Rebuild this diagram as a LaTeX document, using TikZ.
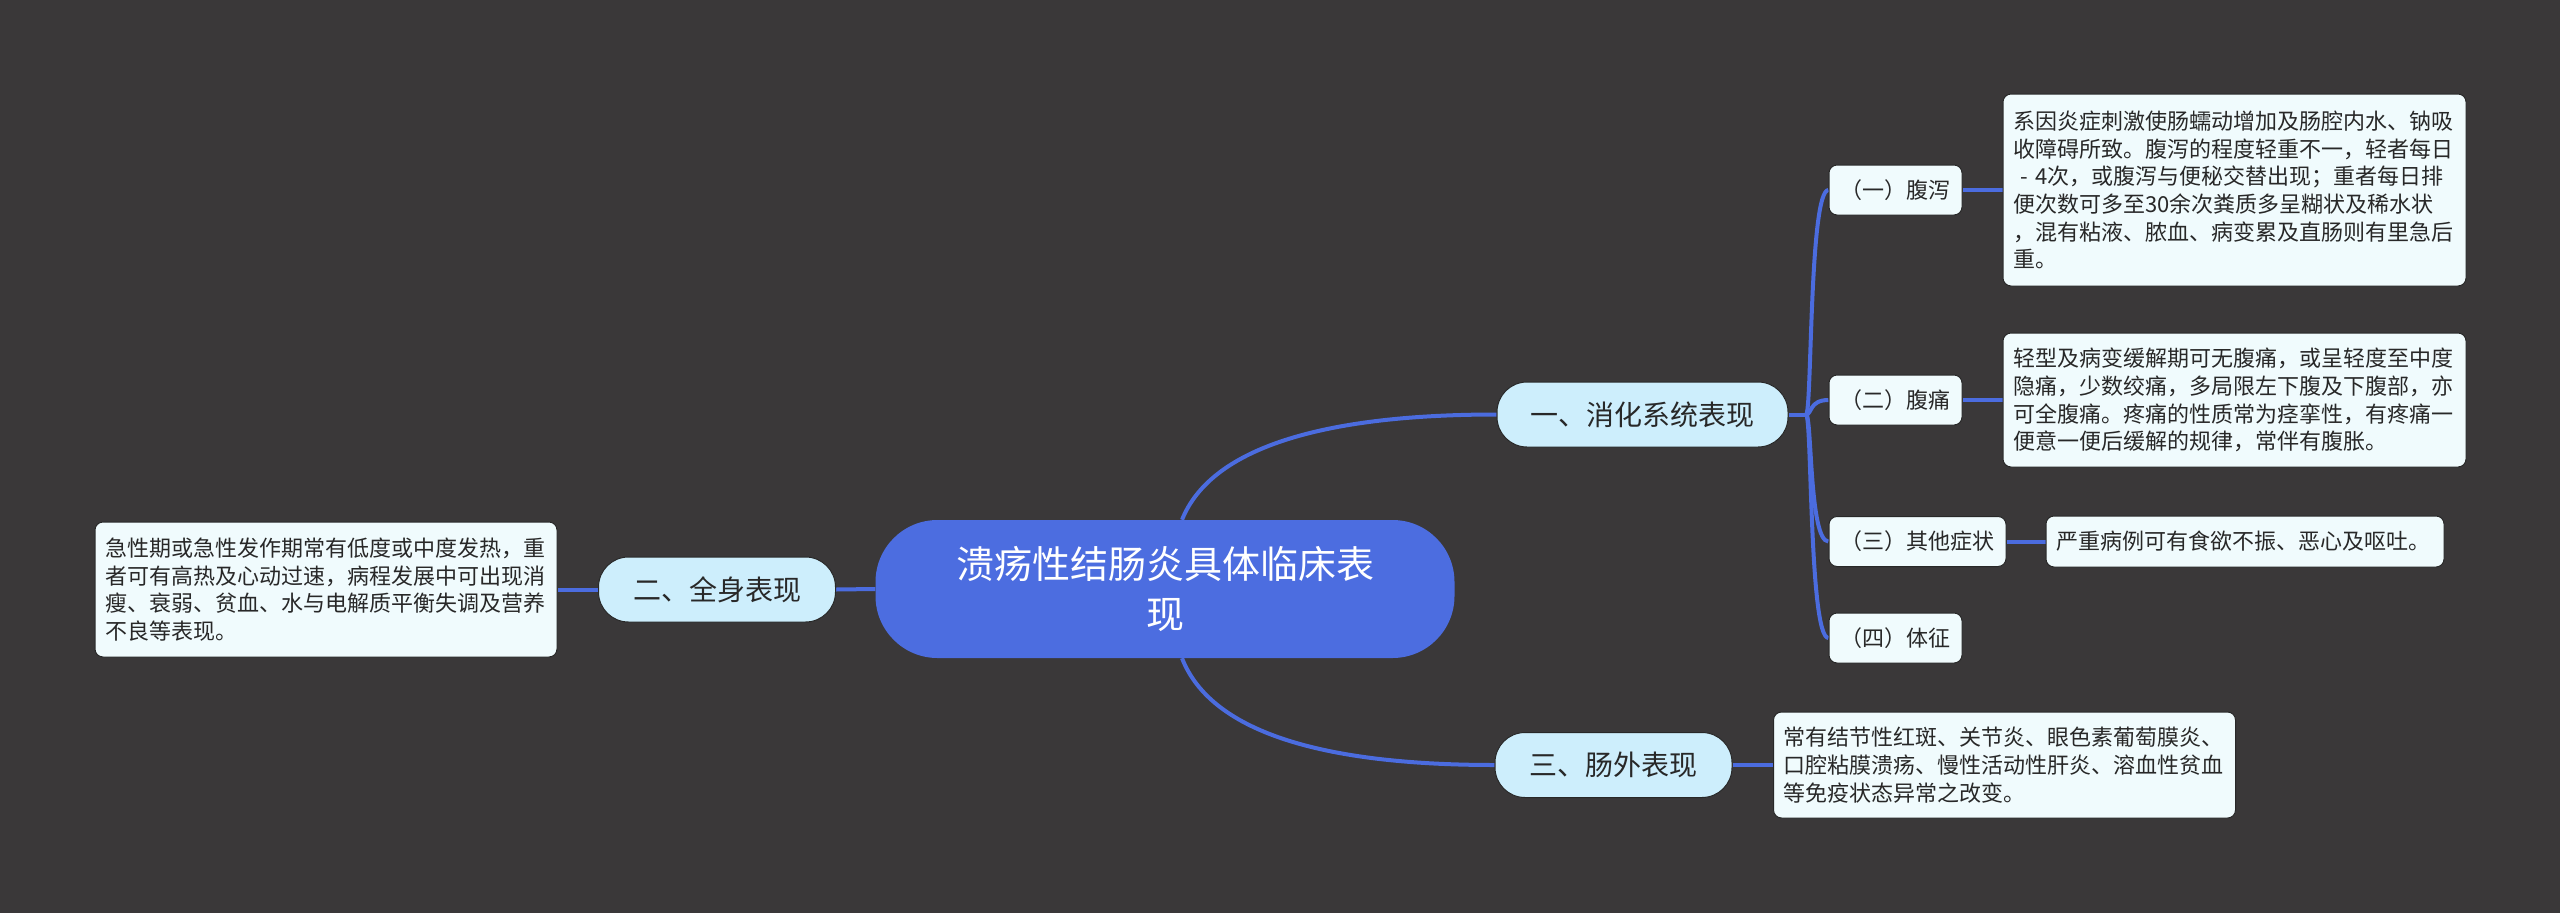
\documentclass[tikz,border=0pt]{standalone}
\usepackage{fontspec}
\setmainfont{Noto Sans CJK SC}
\pgfdeclarelayer{bg}
\pgfsetlayers{bg,main}
\definecolor{bgc}{RGB}{58,56,57}
\definecolor{linec}{RGB}{75,108,223}
\definecolor{rootc}{RGB}{76,109,224}
\definecolor{mainc}{RGB}{205,238,252}
\definecolor{leafc}{RGB}{240,251,253}
\definecolor{txtc}{RGB}{40,40,40}
\definecolor{edgec}{RGB}{40,40,40}
\tikzset{
  conn/.style={draw=linec, line width=4pt},
  rootnode/.style={fill=rootc, rounded corners=62pt, text=white, align=center,
    minimum width=579pt, minimum height=138pt, inner sep=0pt,
    font={\fontsize{38}{50}\selectfont}},
  mainnode/.style={fill=mainc, draw=edgec, line width=1pt, rounded corners=30pt, text=txtc,
    minimum height=65pt, inner sep=0pt, font={\fontsize{28}{34}\selectfont}},
  subnode/.style={fill=leafc, draw=edgec, line width=1pt, rounded corners=8pt, text=txtc,
    minimum height=50pt, inner sep=0pt, font={\fontsize{22}{27.7}\selectfont}},
  leafnode/.style={fill=leafc, draw=edgec, line width=1pt, rounded corners=8pt, text=txtc,
    align=left, inner xsep=10pt, inner ysep=0pt, font={\fontsize{22}{27.7}\selectfont}},
}
\begin{document}
\begin{tikzpicture}[x=1pt,y=-1pt]
\useasboundingbox (0,0) rectangle (2560,913);
\begin{pgfonlayer}{bg}
\fill[bgc] (0,0) rectangle (2560,913);
\end{pgfonlayer}

% root
\node[rootnode] (C) at (1165,589) {溃疡性结肠炎具体临床表\\现};

% main branches
\node[mainnode, minimum width=291pt] (n1) at (1642.5,414.5) {一、消化系统表现};
\node[mainnode, minimum width=237pt] (n2) at (717,589.5) {二、全身表现};
\node[mainnode, minimum width=237pt] (n3) at (1613.5,765) {三、肠外表现};

% sub nodes
\node[subnode, minimum width=133pt] (c1) at (1895.5,190) {（一）腹泻};
\node[subnode, minimum width=133pt] (c2) at (1895.5,400) {（二）腹痛};
\node[subnode, minimum width=177pt] (c3) at (1917.5,541.5) {（三）其他症状};
\node[subnode, minimum width=133pt] (c4) at (1895.5,638) {（四）体征};

% leaves
\node[leafnode, text width=443pt, minimum height=192pt] (d1) at (2234.5,190)
  {系因炎症刺激使肠蠕动增加及肠腔内水、钠吸\\收障碍所致。腹泻的程度轻重不一，轻者每日\\~- 4次，或腹泻与便秘交替出现；重者每日排\\便次数可多至30余次粪质多呈糊状及稀水状\\，混有粘液、脓血、病变累及直肠则有里急后\\重。};
\node[leafnode, text width=443pt, minimum height=134pt] (d2) at (2234.5,400)
  {轻型及病变缓解期可无腹痛，或呈轻度至中度\\隐痛，少数绞痛，多局限左下腹及下腹部，亦\\可全腹痛。疼痛的性质常为痉挛性，有疼痛一\\便意一便后缓解的规律，常伴有腹胀。};
\node[leafnode, text width=378pt, minimum height=51pt] (d3) at (2245,541.5)
  {严重病例可有食欲不振、恶心及呕吐。};
\node[leafnode, text width=442pt, minimum height=106pt] (d4) at (2004.5,765)
  {常有结节性红斑、关节炎、眼色素葡萄膜炎、\\口腔粘膜溃疡、慢性活动性肝炎、溶血性贫血\\等免疫状态异常之改变。};
\node[leafnode, text width=442pt, minimum height=135pt] (d5) at (326,589.5)
  {急性期或急性发作期常有低度或中度发热，重\\者可有高热及心动过速，病程发展中可出现消\\瘦、衰弱、贫血、水与电解质平衡失调及营养\\不良等表现。};

% connectors
\coordinate (t1) at (1806,414.5);
\coordinate (t2) at (1809,414.5);
\begin{pgfonlayer}{bg}
\draw[conn] ([xshift=17pt]C.north) .. controls (1212,445) and (1330,414.5) .. (n1.west);
\draw[conn] ([xshift=17pt]C.south) .. controls (1212,735) and (1330,765) .. (n3.west);
\draw[conn] (C.west) -- (n2.east);
\draw[conn] (n2.west) -- (d5.east);
\draw[conn] (n3.east) -- (d4.west);
\draw[conn] (n1.east) -- (t1);
\foreach \c in {c1,c2,c3,c4}{
  \draw[conn] (t1) .. controls (1812,414.5) and (t2 |- \c.west) .. (\c.west);
}
\draw[conn] (c1.east) -- (d1.west);
\draw[conn] (c2.east) -- (d2.west);
\draw[conn] (c3.east) -- (d3.west);
\end{pgfonlayer}
\end{tikzpicture}
\end{document}
